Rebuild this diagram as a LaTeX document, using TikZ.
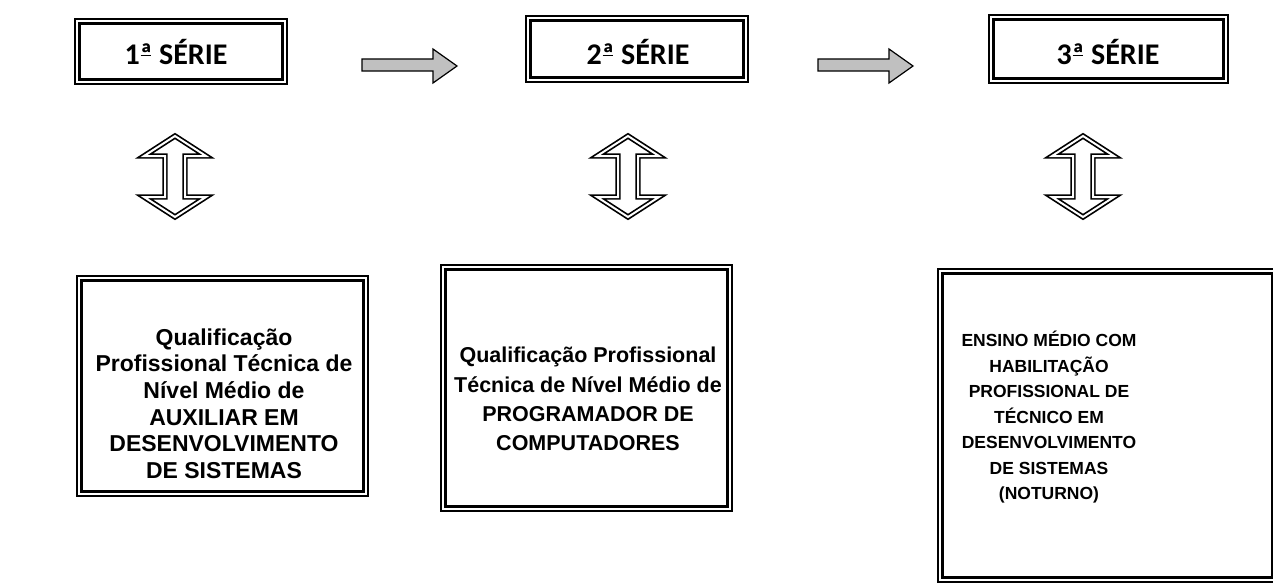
\documentclass[tikz,border=0pt]{standalone}
\usepackage{fontspec}
\setmainfont{Liberation Sans}
\newfontfamily\calib{Carlito}
\definecolor{arrgray}{HTML}{C0C0C0}
\newsavebox{\ordbox}
\newcommand{\ordA}{\sbox{\ordbox}{ª}\rlap{\usebox{\ordbox}}\raisebox{0.27em}{\kern0.03em\rule{\dimexpr\wd\ordbox-0.08em\relax}{0.06em}}\kern0.05em}
\begin{document}
\begin{tikzpicture}[x=1pt,y=-1pt,
  dbox/.style={draw, double, line width=2.2pt, double distance=2.2pt, inner sep=0pt, rectangle},
  toptxt/.style={font=\calib\bfseries\fontsize{30}{32}\selectfont},
  blockarr/.style={draw=black, fill=arrgray, line width=1.2pt, line join=miter},
  udarr/.style={draw, double, line width=1.7pt, double distance=2pt, line join=miter},
  txt/.style={align=center, inner sep=0pt, font=\bfseries}
]
\useasboundingbox (0,0) rectangle (1273,586);

% top boxes
\node[dbox, minimum width=207.4pt, minimum height=60.4pt] (s1) at (181,51.5) {};
\node[toptxt] (t1) at (176,52) {1\ordA\ SÉRIE};
\node[dbox, minimum width=217.4pt, minimum height=61.4pt] (s2) at (637,49) {};
\node[toptxt] (t2) at (638,52) {2\ordA\ SÉRIE};
\node[dbox, minimum width=234.4pt, minimum height=63.4pt] (s3) at (1108.5,49) {};
\node[toptxt] (t3) at (1108,52) {3\ordA\ SÉRIE};

% horizontal block arrows
\foreach \dx in {0,456}{
  \begin{scope}[shift={(\dx,0)}]
    \draw[blockarr] (362,59) -- (433,59) -- (433,49) -- (457,66) -- (433,83) -- (433,71) -- (362,71) -- cycle;
  \end{scope}
}

% up-down hollow arrows
\foreach \cx in {175,628,1083}{
  \begin{scope}[shift={(\cx,0)}]
    \draw[udarr] (0,136) -- (31,156) -- (10,156) -- (10,197) -- (31,197) -- (0,217)
      -- (-31,197) -- (-10,197) -- (-10,156) -- (-31,156) -- cycle;
  \end{scope}
}

% bottom boxes
\node[dbox, minimum width=286.4pt, minimum height=215.4pt] (qa) at (222.5,386) {};
\node[txt, font=\bfseries\fontsize{23}{26.6}\selectfont] (qat) at (224,403.5)
  {Qualificação\\Profissional Técnica de\\Nível Médio de\\AUXILIAR EM\\DESENVOLVIMENTO\\DE SISTEMAS};

\node[dbox, minimum width=286.4pt, minimum height=241.4pt] (qb) at (586.5,388) {};
\node[txt, font=\bfseries\fontsize{21.5}{29.3}\selectfont] (qbt) at (588,399)
  {Qualificação Profissional\\Técnica de Nível Médio de\\PROGRAMADOR DE\\COMPUTADORES};

\node[dbox, minimum width=334.4pt, minimum height=308.4pt] (qc) at (1107.5,425.5) {};
\node[txt, font=\bfseries\fontsize{17.5}{25.5}\selectfont] (qct) at (1049,417.5)
  {ENSINO MÉDIO COM\\HABILITAÇÃO\\PROFISSIONAL DE\\TÉCNICO EM\\DESENVOLVIMENTO\\DE SISTEMAS\\(NOTURNO)};
\end{tikzpicture}
\end{document}
